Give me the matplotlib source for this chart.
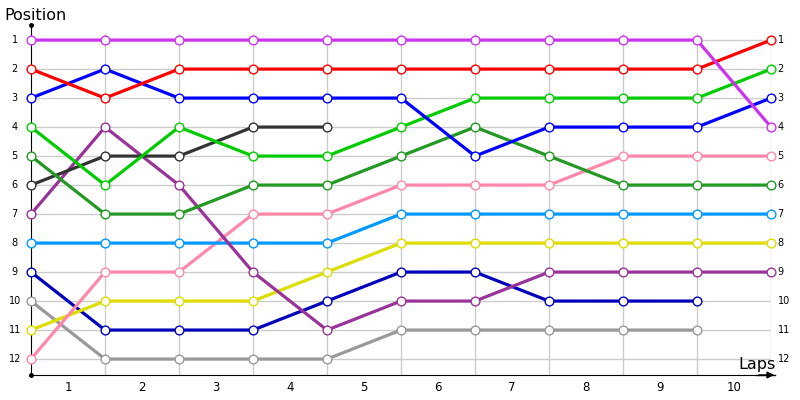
import matplotlib
matplotlib.use('Agg')
import matplotlib.pyplot as plt

# positions per lap marker (index 0..10)
violet = [1, 1, 1, 1, 1, 1, 1, 1, 1, 1, 4]
red = [2, 3, 2, 2, 2, 2, 2, 2, 2, 2, 1]
blue = [3, 2, 3, 3, 3, 3, 5, 4, 4, 4, 3]
green = [4, 6, 4, 5, 5, 4, 3, 3, 3, 3, 2]
dark_green = [5, 7, 7, 6, 6, 5, 4, 5, 6, 6, 6]
black = [6, 5, 5, 4, 4]
purple = [7, 4, 6, 9, 11, 10, 10, 9, 9, 9, 9]
sky = [8, 8, 8, 8, 8, 7, 7, 7, 7, 7, 7]
navy = [9, 11, 11, 11, 10, 9, 9, 10, 10, 10]
gray = [10, 12, 12, 12, 12, 11, 11, 11, 11, 11]
yellow = [11, 10, 10, 10, 9, 8, 8, 8, 8, 8, 8]
pink = [12, 9, 9, 7, 7, 6, 6, 6, 5, 5, 5]

lap_labels = [str(i) for i in range(1, 11)]
positions = list(range(1, 13))

series = [
    (gray, '#999999'),
    (navy, '#0000bb'),
    (yellow, '#dddd00'),
    (pink, '#ff88aa'),
    (sky, '#0099ff'),
    (purple, '#993399'),
    (black, '#333333'),
    (dark_green, '#229922'),
    (green, '#00cc00'),
    (blue, '#0000ff'),
    (red, '#ff0000'),
    (violet, '#cc33ee'),
]

fig = plt.figure(figsize=(8, 4), dpi=100)
ax = fig.add_axes([31 / 800, 25 / 400, 740 / 800, 350 / 400])
ax.set_xlim(0, 10)
ax.set_ylim(12.55, 0.48)

# grid
for p in positions:
    ax.plot([0, 10], [p, p], color='#cccccc', lw=1, zorder=1)
for i in range(1, 11):
    ax.plot([i, i], [0.78, 12.55], color='#cccccc', lw=1, zorder=1)

for vals, col in series:
    xs = list(range(len(vals)))
    ax.plot(xs, vals, color=col, lw=2.3, zorder=3, solid_capstyle='butt', clip_on=False)
    ax.plot(xs, vals, 'o', ms=6.3, mfc='white', mec=col, mew=1.0, zorder=4, clip_on=False)

for s in ['top', 'right']:
    ax.spines[s].set_visible(False)
ax.spines['left'].set_color('black')
ax.spines['bottom'].set_color('black')
ax.set_xticks([])
ax.set_yticks([])

# axis arrow and dots
ax.annotate('', xy=(10.08, 12.55), xytext=(9.8, 12.55),
            arrowprops=dict(arrowstyle='-|>', color='black', lw=1, mutation_scale=10),
            annotation_clip=False)
ax.plot([9.8, 10.05], [12.55, 12.55], color='black', lw=1, clip_on=False)
ax.plot([0], [0.48], 'o', ms=2.5, color='black', clip_on=False)
ax.plot([0], [12.55], 'o', ms=2.5, color='black', clip_on=False)

# y labels both sides
for p in positions:
    ax.text(-0.22, p, str(p), ha='center', va='center', fontsize=7, clip_on=False)
    ax.text(10.09, p, str(p), ha='left', va='center', fontsize=7, clip_on=False)

# lap labels between grid lines
for i, lab in enumerate(lap_labels):
    ax.text(i + 0.5, 12.98, lab, ha='center', va='center', fontsize=8.5, clip_on=False)

fig.text(4 / 800, 1 - 15 / 400, 'Position', ha='left', va='center', fontsize=11.5)
fig.text(776 / 800, 1 - 364 / 400, 'Laps', ha='right', va='center', fontsize=11.5)

fig.savefig('out.png', dpi=100)
